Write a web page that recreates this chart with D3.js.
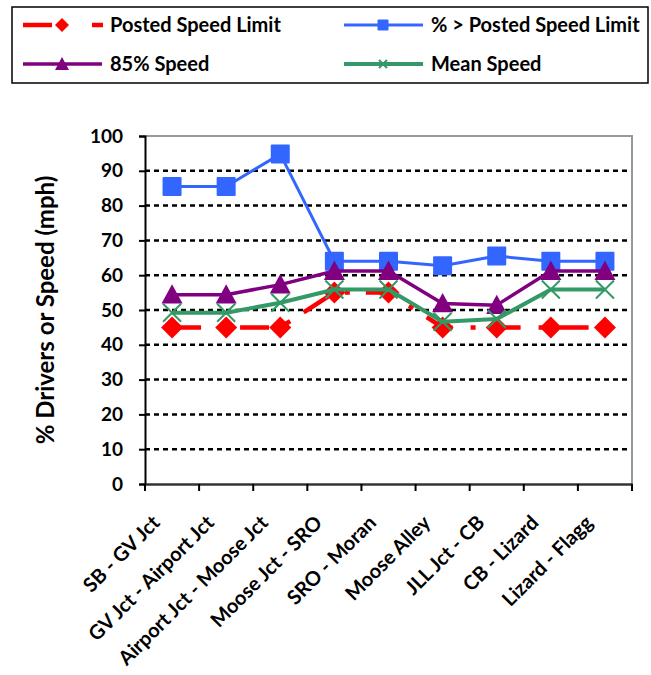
<!DOCTYPE html>
<html>
<head>
<meta charset="utf-8">
<script src="https://cdn.jsdelivr.net/npm/d3@7/dist/d3.min.js"></script>
<style>
  body { margin: 0; background: #fff; }
  text { font-family: Lato, "Open Sans", sans-serif; font-weight: bold; fill: #000; }
</style>
</head>
<body>
<script>
// Road segments along the corridor
const categories = [
  "SB - GV Jct", "GV Jct - Airport Jct", "Airport Jct - Moose Jct",
  "Moose Jct - SRO", "SRO - Moran", "Moose Alley", "JLL Jct - CB",
  "CB - Lizard", "Lizard - Flagg"
];
// Series values per segment
const postedLimit = [45, 45, 45, 55, 55, 45, 45, 45, 45];
const pctOverLimit = [85.5, 85.5, 94.8, 64, 64, 62.7, 65.5, 64, 64];
const speed85 = [54.4, 54.4, 57.3, 61.2, 61.2, 51.9, 51.4, 61.2, 61.2];
const meanSpeed = [49.2, 49.2, 52.1, 55.9, 55.9, 46.6, 47.4, 55.9, 55.9];
const yTicks = [0, 10, 20, 30, 40, 50, 60, 70, 80, 90, 100];

const W = 651, H = 675;
const svg = d3.select("body").append("svg").attr("width", W).attr("height", H);

const x = d3.scaleBand().domain(categories).range([145, 632]);
const y = d3.scaleLinear().domain([0, 100]).range([484, 136]);
const cx = c => x(c) + x.bandwidth() / 2;

// Gridlines
svg.append("g").selectAll("line").data(yTicks.filter(t => t > 0 && t < 100)).join("line")
  .attr("x1", 145).attr("x2", 632)
  .attr("y1", d => y(d)).attr("y2", d => y(d))
  .attr("stroke", "#000").attr("stroke-width", 2.5).attr("stroke-dasharray", "5,4");

// Plot frame (top and right)
svg.append("path")
  .attr("d", `M145,${y(100)}H632V${y(0)}`)
  .attr("fill", "none").attr("stroke", "#999").attr("stroke-width", 2);

// Y axis
const yAxis = svg.append("g").attr("transform", "translate(145,0)")
  .call(d3.axisLeft(y).tickValues(yTicks).tickSize(6).tickPadding(16).tickFormat(d3.format("d")));
yAxis.select(".domain").attr("stroke", "#000").attr("stroke-width", 2);
yAxis.selectAll(".tick line").attr("stroke", "#000").attr("stroke-width", 2);
yAxis.selectAll(".tick text").style("font-size", "19px").style("font-family", "Lato, sans-serif").style("font-weight", "bold");

// X axis
const xAxis = svg.append("g").attr("transform", `translate(0,${y(0)})`)
  .call(d3.axisBottom(x).tickSize(0).tickPadding(0));
xAxis.select(".domain").attr("stroke", "#333").attr("stroke-width", 2.5);
xAxis.selectAll(".tick text")
  .attr("text-anchor", "end")
  .attr("transform", "translate(-11,40) rotate(-45)")
  .attr("y", 0).attr("dy", 0)
  .style("font-size", "20px").style("font-family", "Lato, sans-serif").style("font-weight", "bold");
// Category boundary tick marks
const bounds = categories.map(c => x(c)).concat([x.range()[1]]);
svg.append("g").selectAll("line").data(bounds).join("line")
  .attr("x1", d => d).attr("x2", d => d)
  .attr("y1", y(0)).attr("y2", y(0) + 7)
  .attr("stroke", "#000").attr("stroke-width", 2);

// Y axis title
svg.append("text")
  .attr("transform", "translate(54,310) rotate(-90)")
  .attr("text-anchor", "middle")
  .style("font-size", "24px")
  .text("% Drivers or Speed (mph)");

// Series definitions
const series = [
  { name: "% > Posted Speed Limit", values: pctOverLimit, color: "#3366FF", width: 3, marker: "square" },
  { name: "Posted Speed Limit", values: postedLimit, color: "#FF0000", width: 4.5, marker: "diamond", dash: "29,18,5,16" },
  { name: "85% Speed", values: speed85, color: "#800080", width: 3.5, marker: "triangle" },
  { name: "Mean Speed", values: meanSpeed, color: "#339966", width: 4, marker: "x" }
];

const line = d3.line().x(d => cx(d.c)).y(d => y(d.v));

function drawMarker(g, type, color, px, py, s) {
  if (type === "square") {
    g.append("rect").attr("x", px - s / 2).attr("y", py - s / 2).attr("width", s).attr("height", s)
      .attr("fill", color).attr("rx", 1);
  } else if (type === "diamond") {
    const h = s / 2;
    g.append("path").attr("d", `M${px},${py - h}L${px + h},${py}L${px},${py + h}L${px - h},${py}Z`).attr("fill", color);
  } else if (type === "triangle") {
    const h = s / 2;
    g.append("path").attr("d", `M${px},${py - h}L${px + h},${py + h * 0.85}L${px - h},${py + h * 0.85}Z`).attr("fill", color);
  } else if (type === "x") {
    const h = s / 2;
    g.append("path").attr("d", `M${px - h},${py - h}L${px + h},${py + h}M${px + h},${py - h}L${px - h},${py + h}`)
      .attr("stroke", color).attr("stroke-width", 2).attr("fill", "none");
  }
}

const markerSize = { square: 19, diamond: 22, triangle: 21, x: 18 };

series.forEach(s => {
  const pts = categories.map((c, i) => ({ c, v: s.values[i] }));
  const g = svg.append("g");
  g.append("path").datum(pts).attr("d", line)
    .attr("fill", "none").attr("stroke", s.color).attr("stroke-width", s.width)
    .attr("stroke-dasharray", s.dash || null).attr("stroke-linejoin", "round");
  pts.forEach(p => drawMarker(g, s.marker, s.color, cx(p.c), y(p.v), markerSize[s.marker]));
});

// Legend
const lg = svg.append("g");
lg.append("rect").attr("x", 12).attr("y", 7).attr("width", 636).attr("height", 76)
  .attr("fill", "#fff").attr("stroke", "#000").attr("stroke-width", 1.5);
const legendItems = [
  { s: series[1], x: 23, y: 25 },
  { s: series[0], x: 344, y: 25 },
  { s: series[2], x: 23, y: 64 },
  { s: series[3], x: 344, y: 64 }
];
const legendMarker = { square: 11, diamond: 14, triangle: 14, x: 8 };
legendItems.forEach(it => {
  const s = it.s;
  if (s.dash) {
    lg.append("line").attr("x1", it.x).attr("x2", it.x + 29).attr("y1", it.y).attr("y2", it.y)
      .attr("stroke", s.color).attr("stroke-width", 4.5);
    lg.append("line").attr("x1", it.x + 69).attr("x2", it.x + 80).attr("y1", it.y).attr("y2", it.y)
      .attr("stroke", s.color).attr("stroke-width", 4.5);
  } else {
    lg.append("line").attr("x1", it.x).attr("x2", it.x + 79).attr("y1", it.y).attr("y2", it.y)
      .attr("stroke", s.color).attr("stroke-width", s.width);
  }
  drawMarker(lg, s.marker, s.color, it.x + 39, it.y, legendMarker[s.marker]);
  lg.append("text").attr("x", it.x + 87).attr("y", it.y + 7)
    .style("font-size", "20px").text(s.name);
});
</script>
</body>
</html>
